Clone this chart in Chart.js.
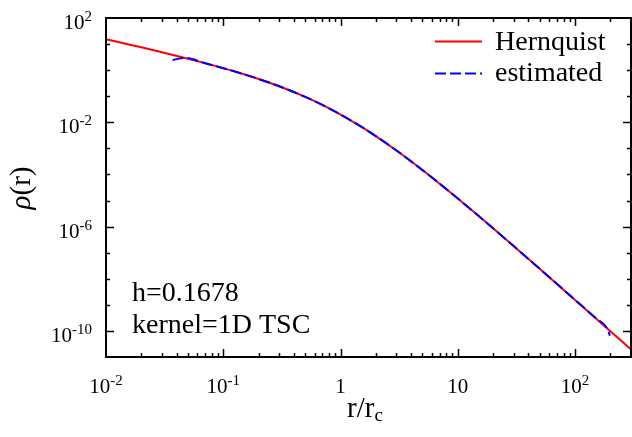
<!DOCTYPE html>
<html>
<head>
<meta charset="utf-8">
<script src="https://cdn.jsdelivr.net/npm/chart.js@4"></script>
<style>
  html, body { margin: 0; padding: 0; background: #fff; }
  canvas { display: block; }
</style>
</head>
<body>
<canvas id="grafico" width="632" height="437"></canvas>
<script>
// radios (r / r_c) y densidades
const radiosHernquist = [0.01, 0.015, 0.02, 0.03, 0.05, 0.07, 0.1, 0.15, 0.2, 0.3, 0.5, 0.7, 1, 1.5, 2, 3, 5, 7, 10, 15, 20, 30, 50, 70, 100, 150, 200, 300];
const rhoHernquist = [15.45, 10.15, 7.50, 4.855, 2.750, 1.856, 1.196, 0.6977, 0.4605, 0.2415, 0.09431, 0.04628, 0.01989, 6.791e-3, 2.947e-3, 8.289e-4, 1.474e-4, 4.441e-5, 1.196e-5, 2.590e-6, 8.593e-7, 1.781e-7, 2.400e-8, 6.353e-9, 1.545e-9, 3.082e-10, 9.799e-11, 1.945e-11];

const radiosEstimado = [0.037, 0.047, 0.07, 0.1, 0.15, 0.2, 0.3, 0.5, 0.7, 1, 1.5, 2, 3, 5, 7, 10, 15, 20, 30, 50, 70, 100, 150, 190, 198];
const rhoEstimado = [2.45, 2.95, 1.85, 1.19, 0.698, 0.461, 0.241, 0.0943, 0.0463, 0.0199, 6.80e-3, 2.95e-3, 8.30e-4, 1.47e-4, 4.46e-5, 1.20e-5, 2.60e-6, 8.62e-7, 1.79e-7, 2.41e-8, 6.40e-9, 1.55e-9, 3.10e-10, 1.15e-10, 6.6e-11];

// ticks de los ejes
const xMayores = [0.01, 0.1, 1, 10, 100];
const xEtiquetas = [['10', '-2'], ['10', '-1'], ['1', ''], ['10', ''], ['10', '2']];
const yEtiquetados = [1e2, 1e-2, 1e-6, 1e-10];
const yEtiquetas = [['10', '2'], ['10', '-2'], ['10', '-6'], ['10', '-10']];

const serif = '"Liberation Serif", "DejaVu Serif", serif';

function puntos(xs, ys) {
  return xs.map((x, i) => ({ x: x, y: ys[i] }));
}

// dibuja "base" con exponente como superindice
function textoExp(ctx, base, exp, x, y, alinear) {
  ctx.font = '21px ' + serif;
  const wb = ctx.measureText(base).width;
  ctx.font = '15px ' + serif;
  const we = exp ? ctx.measureText(exp).width : 0;
  const total = wb + we;
  let x0 = x - total / 2;
  if (alinear === 'right') x0 = x - total;
  ctx.textAlign = 'left';
  ctx.textBaseline = 'alphabetic';
  ctx.font = '21px ' + serif;
  ctx.fillText(base, x0, y);
  if (exp) {
    ctx.font = '15px ' + serif;
    ctx.fillText(exp, x0 + wb, y - 8);
  }
}

const ejesPlugin = {
  id: 'ejes',
  afterDraw(chart) {
    const ctx = chart.ctx;
    const area = chart.chartArea;
    const sx = chart.scales.x;
    const sy = chart.scales.y;
    ctx.save();
    ctx.strokeStyle = '#000';
    ctx.fillStyle = '#000';
    ctx.lineWidth = 2;
    ctx.strokeRect(area.left, area.top, area.right - area.left, area.bottom - area.top);

    ctx.lineWidth = 1.5;
    // ticks eje x (abajo y arriba)
    for (let d = -2; d <= 2; d++) {
      for (let m = 1; m <= 9; m++) {
        const v = m * Math.pow(10, d);
        const px = Math.round(sx.getPixelForValue(v)) + 0.5;
        if (px <= area.left + 1 || px >= area.right - 1) continue;
        const largo = m === 1 ? 8 : 4;
        ctx.beginPath();
        ctx.moveTo(px, area.bottom);
        ctx.lineTo(px, area.bottom - largo);
        ctx.moveTo(px, area.top);
        ctx.lineTo(px, area.top + largo);
        ctx.stroke();
      }
    }
    // ticks eje y (izquierda y derecha), uno por decada
    for (let e = -11; e <= 2; e++) {
      const v = Math.pow(10, e);
      const py = Math.round(sy.getPixelForValue(v)) + 0.5;
      if (py <= area.top + 1 || py >= area.bottom - 1) continue;
      const largo = yEtiquetados.includes(v) ? 8 : 4;
      ctx.beginPath();
      ctx.moveTo(area.left, py);
      ctx.lineTo(area.left + largo, py);
      ctx.moveTo(area.right, py);
      ctx.lineTo(area.right - largo, py);
      ctx.stroke();
    }

    // etiquetas eje x
    xMayores.forEach((v, i) => {
      const px = sx.getPixelForValue(v);
      textoExp(ctx, xEtiquetas[i][0], xEtiquetas[i][1], px, area.bottom + 36, 'center');
    });
    // etiquetas eje y
    yEtiquetados.forEach((v, i) => {
      const py = sy.getPixelForValue(v);
      textoExp(ctx, yEtiquetas[i][0], yEtiquetas[i][1], 92, py + 11, 'right');
    });

    // titulo eje x: r/r_c
    ctx.font = '29px ' + serif;
    const w1 = ctx.measureText('r/r').width;
    ctx.font = '19px ' + serif;
    const w2 = ctx.measureText('c').width;
    const xt = 365 - (w1 + w2) / 2;
    ctx.font = '29px ' + serif;
    ctx.fillText('r/r', xt, 417);
    ctx.font = '19px ' + serif;
    ctx.fillText('c', xt + w1, 421);

    // titulo eje y
    ctx.save();
    ctx.translate(30, 188);
    ctx.rotate(-Math.PI / 2);
    ctx.font = 'italic 29px ' + serif;
    const wr = ctx.measureText('ρ').width;
    ctx.font = '29px ' + serif;
    const wp = ctx.measureText('(r)').width;
    ctx.textAlign = 'left';
    ctx.font = 'italic 29px ' + serif;
    ctx.fillText('ρ', -(wr + wp) / 2, 0);
    ctx.font = '29px ' + serif;
    ctx.fillText('(r)', -(wr + wp) / 2 + wr, 0);
    ctx.restore();

    // anotaciones
    ctx.font = '28px ' + serif;
    ctx.textAlign = 'left';
    ctx.fillText('h=0.1678', 132, 301);
    ctx.fillText('kernel=1D TSC', 132, 333);

    // leyenda
    ctx.lineWidth = 2;
    ctx.strokeStyle = '#ff0000';
    ctx.beginPath();
    ctx.moveTo(435, 41.5);
    ctx.lineTo(482, 41.5);
    ctx.stroke();
    ctx.strokeStyle = '#0000ff';
    ctx.setLineDash([11, 4]);
    ctx.beginPath();
    ctx.moveTo(435, 73.5);
    ctx.lineTo(482, 73.5);
    ctx.stroke();
    ctx.setLineDash([]);
    ctx.font = '28px ' + serif;
    ctx.fillText('Hernquist', 495, 50);
    ctx.fillText('estimated', 495, 81);
    ctx.restore();
  }
};

const grafico = document.getElementById('grafico');
new Chart(grafico, {
  type: 'line',
  data: {
    datasets: [
      {
        label: 'Hernquist',
        data: puntos(radiosHernquist, rhoHernquist),
        borderColor: '#ff0000',
        borderWidth: 2,
        pointRadius: 0,
        order: 2,
        cubicInterpolationMode: 'monotone'
      },
      {
        label: 'estimated',
        data: puntos(radiosEstimado, rhoEstimado),
        borderColor: '#0000ff',
        borderWidth: 2,
        borderDash: [11, 4],
        pointRadius: 0,
        order: 1,
        cubicInterpolationMode: 'monotone'
      }
    ]
  },
  options: {
    responsive: false,
    animation: false,
    layout: { padding: { left: 106, top: 18, right: 1, bottom: 80 } },
    plugins: {
      legend: { display: false },
      tooltip: { enabled: false }
    },
    scales: {
      x: { type: 'logarithmic', min: 0.01, max: 300, display: false },
      y: { type: 'logarithmic', min: 1e-11, max: 1e2, display: false }
    }
  },
  plugins: [ejesPlugin]
});
</script>
</body>
</html>
